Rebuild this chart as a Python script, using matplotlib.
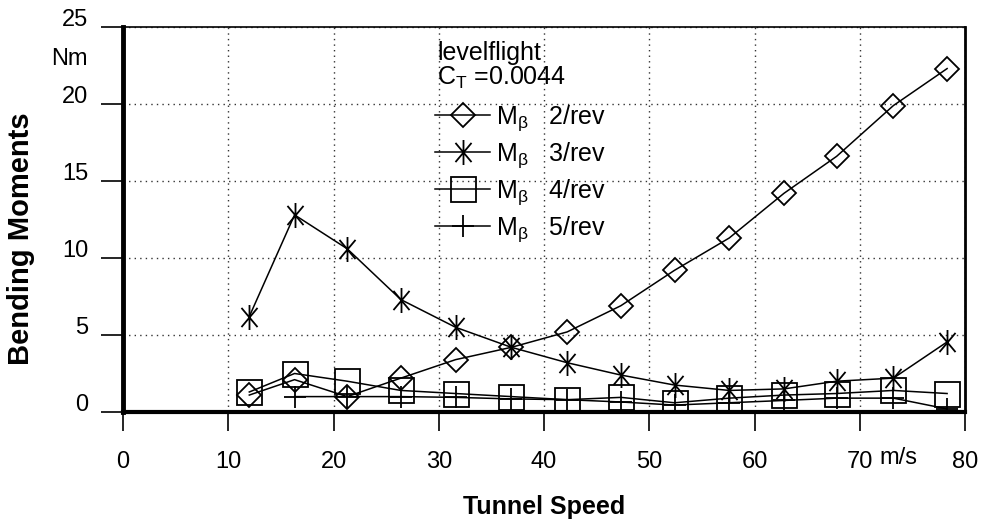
import matplotlib
matplotlib.use("Agg")
import numpy as np
import matplotlib.pyplot as plt
from matplotlib.path import Path
from matplotlib.transforms import ScaledTranslation

plt.rcParams['font.family'] = ['Liberation Sans', 'DejaVu Sans']
plt.rcParams['mathtext.fontset'] = 'custom'
plt.rcParams['mathtext.rm'] = 'Liberation Sans'
plt.rcParams['mathtext.it'] = 'Liberation Sans'

# ---- data ----
speed = [12.0, 16.3, 21.3, 26.4, 31.6, 36.9, 42.2, 47.3, 52.4, 57.6, 62.8, 67.8, 73.2, 78.3]
m_2rev = [1.1, 2.1, 1.0, 2.2, 3.4, 4.2, 5.2, 6.9, 9.2, 11.3, 14.2, 16.6, 19.9, 22.3]
m_3rev = [6.2, 12.8, 10.6, 7.3, 5.5, 4.2, 3.2, 2.4, 1.75, 1.4, 1.5, 2.0, 2.2, 4.55]
m_4rev = [1.3, 2.5, 2.0, 1.4, 1.2, 1.0, 0.8, 0.95, 0.6, 0.9, 1.1, 1.2, 1.4, 1.2]
m_5rev = [np.nan, 1.0, 1.0, 1.0, 0.95, 0.85, 0.8, 0.65, 0.45, 0.6, 0.75, 0.9, 0.9, 0.2]
series_labels = [r"M$_{\beta}$   2/rev", r"M$_{\beta}$   3/rev", r"M$_{\beta}$   4/rev", r"M$_{\beta}$   5/rev"]
xticks = [0, 10, 20, 30, 40, 50, 60, 70, 80]
yticks = [0, 5, 10, 15, 20, 25]
title_lines = ["levelflight", "C$_{\\mathrm{T}}$ =0.0044"]

fig = plt.figure(figsize=(9.86, 5.2), dpi=100)
ax = fig.add_axes([123/986, 1-412/520, (965-123)/986, (412-27)/520])

# asterisk marker (vertical + two diagonals)
c, s = np.cos(np.radians(50)), np.sin(np.radians(50))
ast = Path([(0, -1), (0, 1), (-c, -s), (c, s), (-c, s), (c, -s)],
           [Path.MOVETO, Path.LINETO, Path.MOVETO, Path.LINETO, Path.MOVETO, Path.LINETO])

kw = dict(color='black', lw=1.1, mew=1.3, mfc='none', mec='black')
h2, = ax.plot(speed, m_2rev, marker='D', ms=12, **kw)
h3, = ax.plot(speed, m_3rev, marker=ast, ms=18, **kw)
h4, = ax.plot(speed, m_4rev, marker='s', ms=18, **kw)
h5, = ax.plot(speed, m_5rev, marker='+', ms=16, **kw)

ax.set_xlim(0, 80)
ax.set_ylim(0, 25)
ax.set_xticks(xticks)
ax.set_yticks(yticks)
ax.grid(True, color='#333333', linestyle=(0, (1, 3)), linewidth=1.0)

for side, lw in [('left', 3.5), ('bottom', 3.0), ('top', 1.2), ('right', 2.0)]:
    ax.spines[side].set_linewidth(lw)
    ax.spines[side].set_color('black')

ax.tick_params(axis='x', direction='out', length=14, width=1.2, pad=14, labelsize=17)
ax.tick_params(axis='y', direction='out', length=16, width=1.2, pad=9, labelsize=17)
off = ScaledTranslation(0, 7/72, fig.dpi_scale_trans)
for lab in ax.get_yticklabels():
    lab.set_transform(lab.get_transform() + off)

ax.set_ylabel("Bending Moments", fontsize=21, fontweight='bold')
ax.yaxis.set_label_coords(-0.105, 0.45)
ax.set_xlabel("Tunnel Speed", fontsize=18, fontweight='bold')
ax.xaxis.set_label_coords(0.5, -0.215)

fig.text(88/986, 1-59/520, "Nm", fontsize=17, ha='right', va='center')
fig.text(898/986, 1-458/520, "m/s", fontsize=17, ha='center', va='center')

# legend heading lines
fig.text(437/986, 1-53/520, title_lines[0], fontsize=18, ha='left', va='center')
fig.text(437/986, 1-78/520, title_lines[1], fontsize=18, ha='left', va='center')

leg = ax.legend([h2, h3, h4, h5], series_labels,
                loc='upper left', bbox_to_anchor=(435/986, 1-103/520),
                bbox_transform=fig.transFigure, frameon=False,
                fontsize=18, handlelength=2.2,
                handletextpad=0.25, labelspacing=0.3, borderpad=0,
                borderaxespad=0, numpoints=1)

fig.savefig("out.png", dpi=100)
